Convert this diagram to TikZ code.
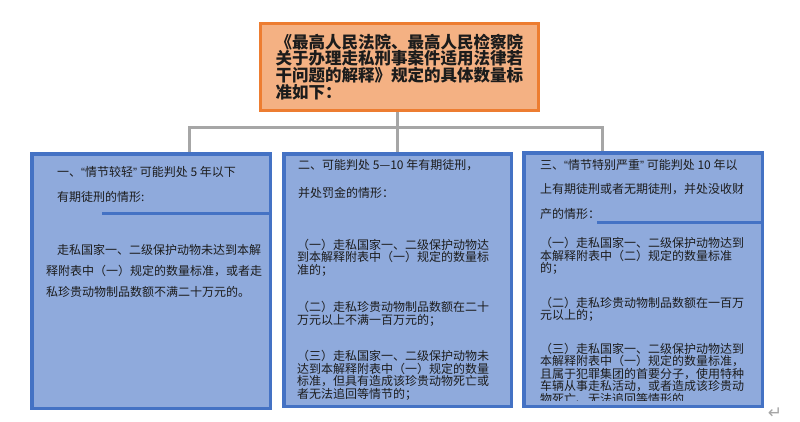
\documentclass[tikz,border=0pt]{standalone}
\usepackage{fontspec}
\usepackage{tikz}
\usetikzlibrary{backgrounds}
\newfontfamily\cjk{Noto Sans CJK SC}
\newfontfamily\latinfont{Liberation Sans}
\newfontfamily\arrowfont{DejaVu Sans}
\newcommand\quoted[1]{{\latinfont“}#1{\latinfont”}}
\definecolor{rulefill}{RGB}{244,177,131}
\definecolor{ruleline}{RGB}{237,125,49}
\definecolor{casefill}{RGB}{143,170,220}
\definecolor{caseline}{RGB}{68,114,196}
\definecolor{linkgray}{RGB}{166,166,166}
\definecolor{inkdark}{RGB}{28,28,28}

\begin{document}
\begin{tikzpicture}[x=1pt, y=-1pt]
    \tikzset{
        rulebox/.style={draw=ruleline, fill=rulefill, line width=3pt, minimum width=278pt, minimum height=87pt,
            text width=248pt, align=left, text=inkdark, font=\cjk\bfseries\fontsize{16.5}{16.8}\selectfont},
        casebox/.style={draw=caseline, fill=casefill, line width=3.5pt},
        para/.style={anchor=north west, inner sep=0pt, align=left, text=inkdark},
        cut/.style={draw=caseline, line width=3pt},
        link/.style={draw=linkgray, line width=3pt}
    }
    \useasboundingbox (0,0) rectangle (800,421);

    \node[rulebox] (rules) at (399.5,67) {《最高人民法院、最高人民检察院\\关于办理走私刑事案件适用法律若\\干问题的解释》规定的具体数量标\\准如下：};

    \node[casebox, minimum width=238.5pt, minimum height=254.5pt] (light)  at (151,281)   {};
    \node[casebox, minimum width=227.5pt, minimum height=252.5pt] (medium) at (397.5,280) {};
    \node[casebox, minimum width=238.5pt, minimum height=253.5pt] (heavy)  at (643,279.5) {};

    % first case
    \node[para, font=\cjk\fontsize{12}{25}\selectfont] (lighthead) at (57,166) {一、\quoted{情节较轻} 可能判处 5 年以下\\有期徒刑的情形:};
    \coordinate (lightcut) at (102,213);
    \draw[cut] (lightcut) -- (lightcut -| light.east);
    \node[para, font=\cjk\fontsize{12}{21}\selectfont] (lighttext) at (46,244) {\hspace*{11pt}走私国家一、二级保护动物未达到本解\\释附表中（一）规定的数量标准，或者走\\私珍贵动物制品数额不满二十万元的。};

    % second case
    \node[para, font=\cjk\fontsize{12}{28}\selectfont] (mediumhead) at (298,159) {二、可能判处 5—10 年有期徒刑，\\并处罚金的情形：};
    \node[para, font=\cjk\fontsize{12}{12.5}\selectfont] (mediumtext) at (297,239) {（一）走私国家一、二级保护动物达\\到本解释附表中（一）规定的数量标\\准的；\\[25pt]（二）走私珍贵动物制品数额在二十\\万元以上不满一百万元的；\\[24pt]（三）走私国家一、二级保护动物未\\达到本解释附表中（一）规定的数量\\标准，但具有造成该珍贵动物死亡或\\者无法追回等情节的；};

    % third case
    \node[para, font=\cjk\fontsize{12}{24.5}\selectfont] (heavyhead) at (540,159) {三、\quoted{情节特别严重} 可能判处 10 年以\\上有期徒刑或者无期徒刑，并处没收财\\产的情形：};
    \coordinate (heavycut) at (597,222);
    \draw[cut] (heavycut) -- (heavycut -| heavy.east);
    \begin{scope}
        \clip (heavy.north west) rectangle (heavy.east |- 0,400.5);
        \node[para, font=\cjk\fontsize{12}{12.5}\selectfont] (heavytext) at (540,237.3) {（一）走私国家一、二级保护动物达到\\本解释附表中（二）规定的数量标准\\的；\\[22pt]（二）走私珍贵动物制品数额在一百万\\元以上的；\\[21pt]（三）走私国家一、二级保护动物达到\\本解释附表中（一）规定的数量标准，\\且属于犯罪集团的首要分子，使用特种\\车辆从事走私活动，或者造成该珍贵动\\物死亡、无法追回等情形的};
    \end{scope}

    \node[font=\arrowfont\fontsize{17}{17}\selectfont, text=linkgray, inner sep=0pt] (mark) at (775,413) {↵};

    \begin{scope}[on background layer]
        \fill[white] (0,0) rectangle (800,421);
        \coordinate (hub)      at (medium.north |- 0,127);
        \coordinate (rulefoot) at (hub |- rules.south);
        \coordinate (leftend)  at (189,127);
        \coordinate (rightend) at (602,127);
        \draw[link] (rulefoot) -- (medium.north);
        \draw[link] (light.north -| leftend) -- (leftend) -- (rightend) -- (heavy.north -| rightend);
    \end{scope}
\end{tikzpicture}
\end{document}
